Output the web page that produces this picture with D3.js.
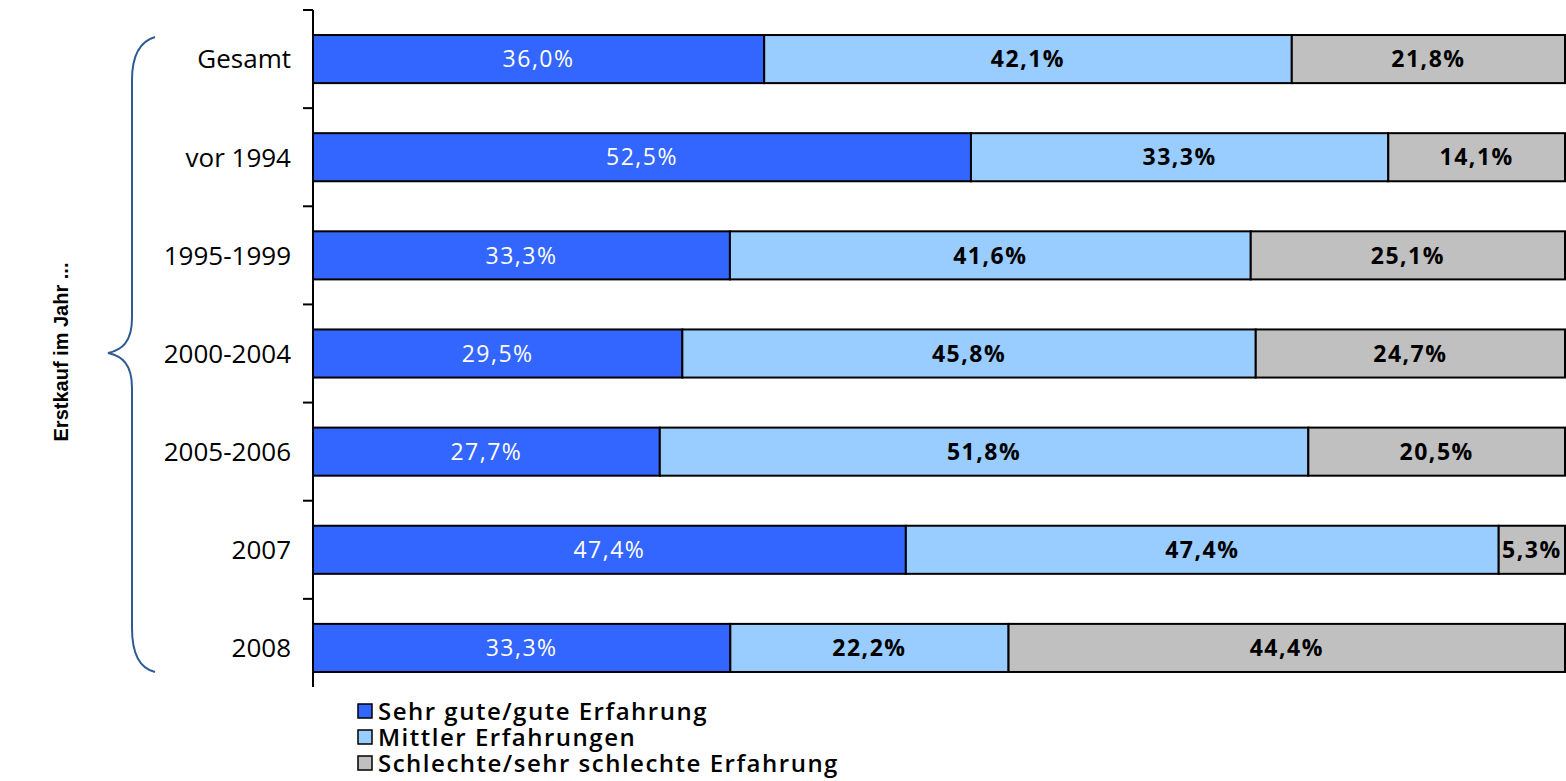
<!DOCTYPE html>
<html>
<head>
<meta charset="utf-8">
<script src="https://cdn.jsdelivr.net/npm/d3@7"></script>
<style>
  body { margin: 0; background: #fff; }
  svg { display: block; }
</style>
</head>
<body>
<svg id="chart"></svg>
<script>
const width = 1566;
const height = 781;

// categories and values (percent)
const categories = ["Gesamt", "vor 1994", "1995-1999", "2000-2004", "2005-2006", "2007", "2008"];
const seriesNames = ["Sehr gute/gute Erfahrung", "Mittler Erfahrungen", "Schlechte/sehr schlechte Erfahrung"];
const goodValues = [36.0, 52.5, 33.3, 29.5, 27.7, 47.4, 33.3];
const midValues = [42.1, 33.3, 41.6, 45.8, 51.8, 47.4, 22.2];
const badValues = [21.8, 14.1, 25.1, 24.7, 20.5, 5.3, 44.4];
const colors = ["#3366FF", "#99CCFF", "#C0C0C0"];
const labelColors = ["#ffffff", "#000000", "#000000"];
const axisTitle = "Erstkauf im Jahr ...";

const rows = categories.map((c, i) => ({
    cat: c,
    s0: goodValues[i],
    s1: midValues[i],
    s2: badValues[i]
}));

const svg = d3.select('#chart')
    .attr('width', width)
    .attr('height', height);

const x = d3.scaleLinear()
    .domain([0, 1])
    .range([313, 1565]);

const y = d3.scaleBand()
    .domain(categories)
    .range([10, 697])
    .paddingInner(0.51)
    .paddingOuter(0.255);

const stack = d3.stack()
    .keys(["s0", "s1", "s2"])
    .offset(d3.stackOffsetExpand);

const stacked = stack(rows);

const layers = svg.append('g')
    .selectAll('g')
    .data(stacked)
    .enter().append('g')
    .attr('fill', (d, i) => colors[i]);

layers.selectAll('rect')
    .data(d => d)
    .enter().append('rect')
    .attr('x', d => x(d[0]))
    .attr('y', d => y(d.data.cat))
    .attr('width', d => x(d[1]) - x(d[0]))
    .attr('height', y.bandwidth())
    .attr('stroke', '#000')
    .attr('stroke-width', 2);

// value labels
stacked.forEach((layer, i) => {
    svg.append('g')
        .selectAll('text')
        .data(layer)
        .enter().append('text')
        .attr('x', d => (x(d[0]) + x(d[1])) / 2)
        .attr('y', d => y(d.data.cat) + y.bandwidth() / 2)
        .attr('dy', '0.36em')
        .attr('text-anchor', 'middle')
        .attr('fill', labelColors[i])
        .style('font-family', '"Open Sans", sans-serif')
        .style('font-size', '23px')
        .style('font-weight', i === 0 ? 'normal' : 'bold')
        .style('letter-spacing', '1.5px')
        .text(d => d3.format('.1f')(d.data[layer.key]).replace('.', ',') + '%');
});

// category axis
const axisG = svg.append('g');
axisG.append('line')
    .attr('x1', 313).attr('x2', 313)
    .attr('y1', 10).attr('y2', 687)
    .attr('stroke', '#000')
    .attr('stroke-width', 2);

const step = y.step();
const tickYs = d3.range(categories.length).map(i => 10 + i * step);
axisG.selectAll('.tick')
    .data(tickYs)
    .enter().append('line')
    .attr('class', 'tick')
    .attr('x1', 303).attr('x2', 313)
    .attr('y1', d => d).attr('y2', d => d)
    .attr('stroke', '#000')
    .attr('stroke-width', 2);

axisG.selectAll('.cat')
    .data(categories)
    .enter().append('text')
    .attr('class', 'cat')
    .attr('x', 291)
    .attr('y', d => y(d) + y.bandwidth() / 2)
    .attr('dy', '0.36em')
    .attr('text-anchor', 'end')
    .style('font-family', '"Open Sans", sans-serif')
    .style('font-size', '26px')
    .attr('fill', '#000')
    .text(d => d);

// brace
const brace = d3.path();
brace.moveTo(155, 37);
brace.bezierCurveTo(138, 42, 132, 58, 132, 80);
brace.lineTo(132, 318);
brace.bezierCurveTo(132, 342, 122, 350, 108, 353);
brace.bezierCurveTo(122, 356, 132, 364, 132, 388);
brace.lineTo(132, 628);
brace.bezierCurveTo(132, 652, 138, 668, 155, 672);
svg.append('path')
    .attr('d', brace.toString())
    .attr('fill', 'none')
    .attr('stroke', '#2F5B94')
    .attr('stroke-width', 2);

// axis title
svg.append('text')
    .attr('transform', 'translate(68,352) rotate(-90)')
    .attr('text-anchor', 'middle')
    .style('font-family', '"Liberation Sans", Arial, sans-serif')
    .style('font-size', '20px')
    .style('font-weight', 'bold')
    .text(axisTitle);

// legend
const legend = svg.append('g')
    .selectAll('g')
    .data(seriesNames)
    .enter().append('g')
    .attr('transform', (d, i) => `translate(358,${711 + i * 26})`);

legend.append('rect')
    .attr('x', 0).attr('y', -7)
    .attr('width', 14).attr('height', 14)
    .attr('fill', (d, i) => colors[i])
    .attr('stroke', '#000')
    .attr('stroke-width', 1.5);

legend.append('text')
    .attr('x', 20)
    .attr('y', 0)
    .attr('dy', '0.36em')
    .style('font-family', '"Open Sans", sans-serif')
    .style('font-size', '24px')
    .style('font-weight', 600)
    .style('letter-spacing', '1.5px')
    .text(d => d);
</script>
</body>
</html>
